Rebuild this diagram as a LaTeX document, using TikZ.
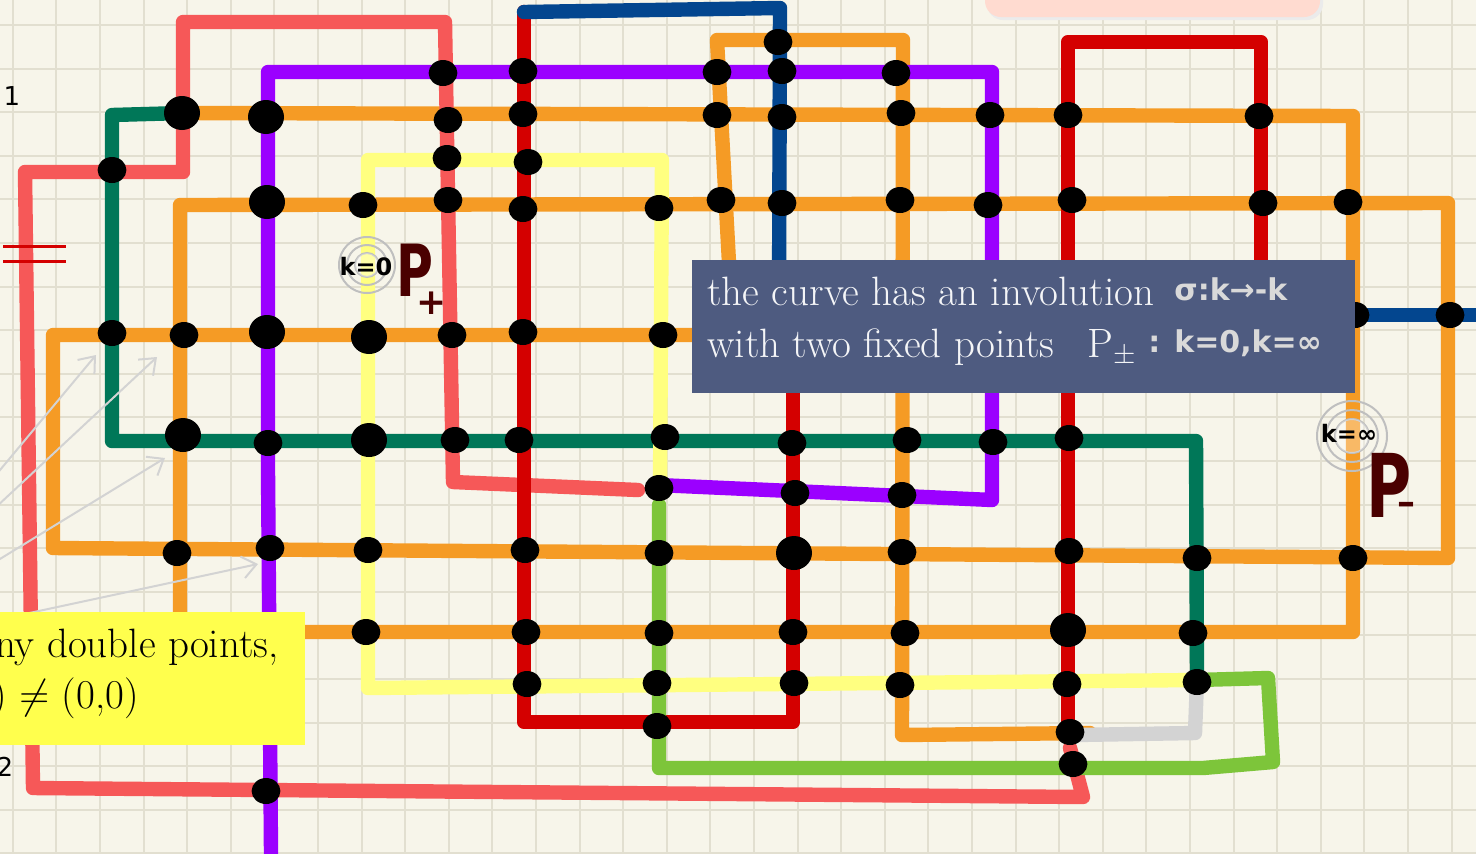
\documentclass[tikz,border=0pt]{standalone}
\usepackage{fontspec}
\newfontfamily\hand{DejaVu Sans}
\usetikzlibrary{arrows.meta}
\definecolor{paper}{HTML}{F7F5EA}
\definecolor{gridc}{HTML}{E2DFD0}
\definecolor{sal}{HTML}{F65858}
\definecolor{pur}{HTML}{9B00FF}
\definecolor{dgr}{HTML}{007758}
\definecolor{org}{HTML}{F59B25}
\definecolor{rd}{HTML}{D40000}
\definecolor{blu}{HTML}{03468F}
\definecolor{yel}{HTML}{FFFF80}
\definecolor{lgn}{HTML}{7DC53A}
\definecolor{lgy}{HTML}{D3D3D3}
\definecolor{slate}{HTML}{4E5B80}
\definecolor{note}{HTML}{FFFF4D}
\definecolor{pinknote}{HTML}{FFDBD0}
\definecolor{maroon}{HTML}{4A0000}
\begin{document}
\begin{tikzpicture}[x=0.5pt,y=-0.5pt,>={Straight Barb[length=7pt,width=11pt]},
 strand/.style={line width=7.2pt,line cap=round,line join=round},
 scrawl/.style={inner sep=0pt,font=\hand\bfseries\fontsize{12}{12}\selectfont},
 boxtext/.style={inner sep=0pt,anchor=base west,text=white!94!slate,font=\fontsize{20.5}{24}\selectfont}]
 \useasboundingbox (0,0) rectangle (1476,853);
 \fill[paper] (0,0) rectangle (1476,853);
 \foreach \i in {0,...,33} \draw[gridc,line width=1pt] (12.7+43.6*\i,0)--(12.7+43.6*\i,853);
 \foreach \j in {0,...,19} \draw[gridc,line width=1pt] (0,25+43.6*\j)--(1476,25+43.6*\j);
 \fill[black!8,rounded corners=8pt] (987,-30) rectangle (1323,20);
 \fill[pinknote,rounded corners=8pt] (985,-30) rectangle (1320,17);
 \draw[strand,org] (183,113)--(1353,116)--(1353,632)--(180,632)--(180,205)--(1448,203)--(1448,558)--(53,548)--(53,335)--(740,335);
 \draw[strand,org] (731,300)--(717,40)--(903,40)--(902,735)--(1090,733);
 \draw[strand,sal] (638,490)--(453,482)--(445,22)--(183,22)--(183,172)--(25,172)--(33,788)--(1083,797)--(1070,748);
 \draw[strand,pur] (658,485)--(992,500)--(992,72)--(268,72)--(268,470)--(271,853);
 \draw[strand,dgr] (183,113)--(112,115)--(112,441)--(1196,441)--(1197,680);
 \draw[strand,lgy] (1197,680)--(1195,733)--(1075,735);
 \draw[strand,rd] (524,12)--(524,722)--(793,722)--(793,360);
 \draw[strand,rd] (1068,360)--(1068,733);
 \draw[strand,rd] (1068,300)--(1068,42)--(1261,42)--(1261,300);
 \draw[strand,blu] (524,12)--(780,8)--(779,300);
 \draw[strand,blu] (1340,315)--(1490,315);
 \draw[strand,yel] (660,485)--(662,160)--(368,160)--(368,688)--(1197,680);
 \draw[strand,lgn] (659,505)--(659,768)--(1203,768)--(1273,762)--(1268,678)--(1197,680);
 \draw[rd,line width=1.5pt] (3,246)--(66,246) (3,261)--(66,261);
 \draw[->,lgy,line width=1pt] (-5,476)--(96,355);
 \draw[->,lgy,line width=1pt] (-5,508)--(157,357);
 \draw[->,lgy,line width=1pt] (-5,562)--(165,458);
 \draw[->,lgy,line width=1pt] (20,615)--(258,564);
 \foreach \p in {(443,73),(523,71),(717,72),(782,71),(896,73),(778,42),
  (448,120),(523,114),(717,115),(782,117),(901,113),(990,115),(1068,115),(1259,116),
  (112,170),(447,158),(528,162),
  (363,205),(448,200),(523,209),(659,208),(721,200),(782,203),(900,200),(988,205),(1072,200),(1263,203),(1348,202),
  (112,333),(184,335),(452,335),(523,332),(663,335),(1355,315),(1450,315),
  (268,443),(455,440),(519,440),(665,437),(792,443),(907,440),(993,442),(1069,438),
  (659,488),(795,493),(902,495),
  (177,553),(270,548),(368,550),(525,550),(659,553),(902,552),(1069,551),(1197,558),(1353,558),
  (366,632),(526,632),(659,633),(793,632),(905,633),(1193,633),
  (527,684),(657,683),(794,683),(900,685),(1067,684),(1197,682),
  (657,726),(1070,732),(1073,764),(266,791)}
  \fill \p ellipse (7.2pt and 6.5pt);
 \foreach \p in {(182,113),(266,117),(267,202),(267,332),(369,337),(183,435),(369,440),(794,553),(1068,630)}
  \fill \p ellipse (9pt and 8.5pt);
 \foreach \r in {14,10,6} \draw[black!25,line width=1pt] (367,265) circle (\r pt);
 \fill[white,opacity=.3] (367,265) circle (6pt);
 \foreach \r in {17.5,13,8.5} \draw[black!25,line width=1pt] (1352,436) circle (\r pt);
 \fill[white,opacity=.3] (1352,436) circle (8.5pt);
 \node (kzero) [scrawl] at (366,267) {k=0};
 \node (pplus) [scrawl,text=maroon,font=\hand\bfseries\fontsize{36}{36}\selectfont] at (415,270) {\scalebox{0.7}[1]{P}};
 \node (plus) [scrawl,text=maroon,font=\hand\bfseries\fontsize{18}{18}\selectfont] at (432,303) {+};
 \node (kinf) [scrawl] at (1349,433) {k=∞};
 \node (pminus) [scrawl,text=maroon,font=\hand\bfseries\fontsize{44}{44}\selectfont] at (1389,485) {\scalebox{0.7}[1]{P}};
 \node (minus) [scrawl,text=maroon,font=\hand\bfseries\fontsize{18}{18}\selectfont] at (1406,508) {–};
 \node (one) [inner sep=0pt,font=\hand\fontsize{13}{13}\selectfont] at (12,96) {1};
 \node (two) [inner sep=0pt,font=\hand\fontsize{13}{13}\selectfont] at (5,767) {2};
 \node (inv) [fill=slate,anchor=north west,minimum width=331.5pt,minimum height=66.5pt,inner sep=0pt] at (692,260) {};
 \node (invA) [boxtext] at (707,305) {the curve has an involution};
 \node (sigma) [scrawl,anchor=base west,text=black!15,font=\hand\bfseries\fontsize{15}{15}\selectfont] at (1174,300) {σ:k→-k};
 \node (invB) [boxtext] at (707,357) {with two fixed points};
 \node (ppm) [boxtext] at (1087,357) {P$_{\pm}$};
 \node (fixed) [scrawl,anchor=base west,text=black!15,font=\hand\bfseries\fontsize{15}{15}\selectfont] at (1148,352) {: k=0,k=∞};
 \node (dbl) [fill=note,anchor=north east,minimum width=162.5pt,minimum height=66.5pt,inner sep=0pt] at (305,612) {};
 \node (dblA) [inner sep=0pt,anchor=base east,font=\fontsize{20.5}{24}\selectfont] at (279,657) {ny double points,};
 \node (dblB) [inner sep=0pt,anchor=base east,font=\fontsize{20.5}{24}\selectfont] at (139,708) {n) $\neq$ (0,0)};
\end{tikzpicture}
\end{document}
